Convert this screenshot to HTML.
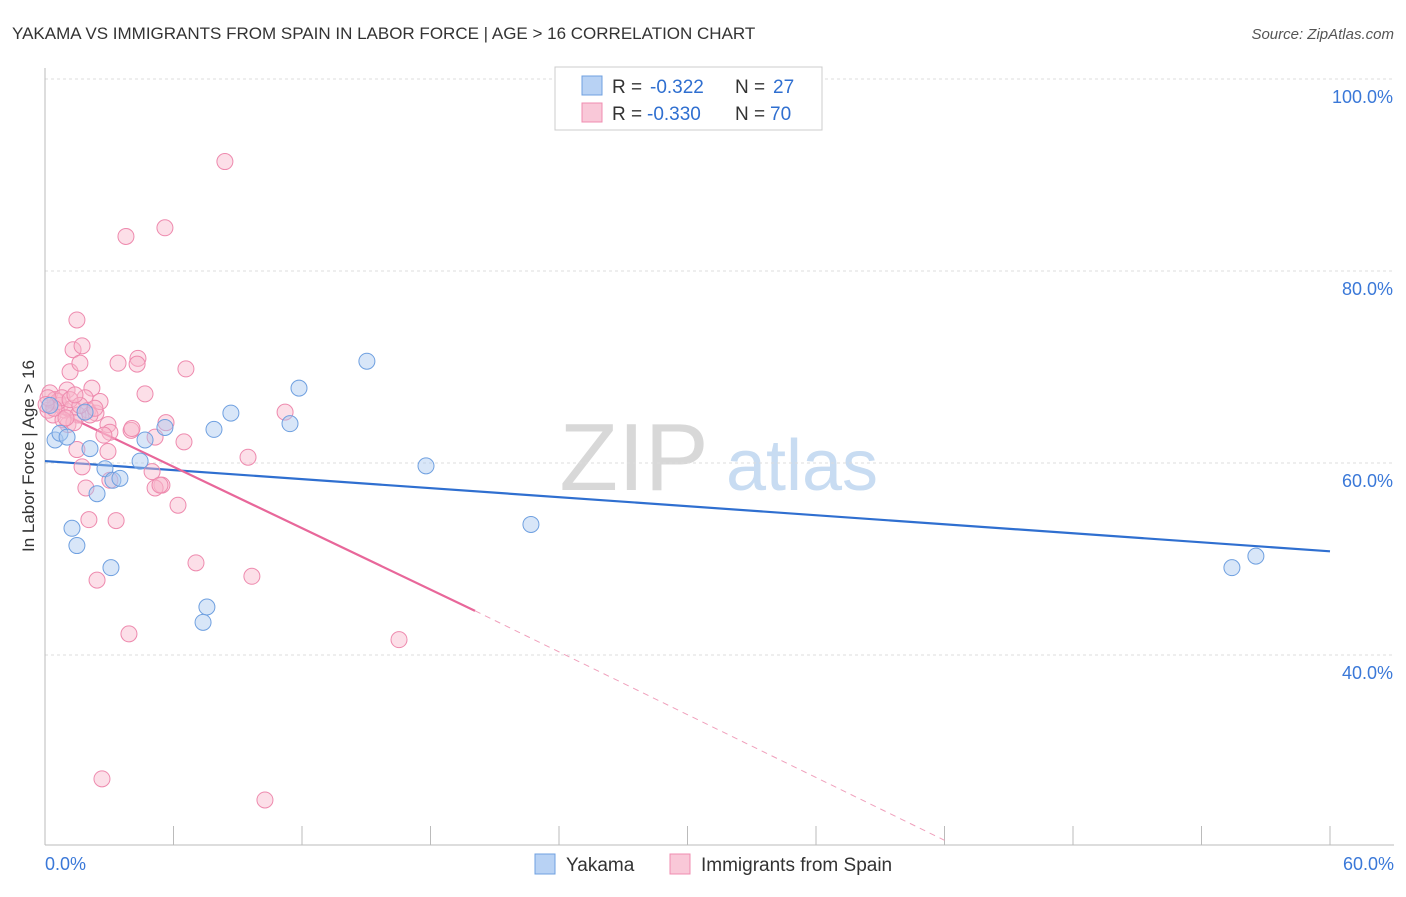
<!DOCTYPE html>
<html><head><meta charset="utf-8"><style>
body{margin:0;background:#fff;font-family:"Liberation Sans",sans-serif}
svg text{font-family:"Liberation Sans",sans-serif}
</style></head><body>
<svg id="c" width="1406" height="892">
<text x="12" y="39" font-size="17" fill="#333">YAKAMA VS IMMIGRANTS FROM SPAIN IN LABOR FORCE | AGE &gt; 16 CORRELATION CHART</text>
<text x="1394" y="39" font-size="15" fill="#555" font-style="italic" text-anchor="end">Source: ZipAtlas.com</text>
<g><text x="634" y="490" font-size="96" font-family="Liberation Serif" fill="#d8d8d8" text-anchor="middle">ZIP</text><text x="802" y="490" font-size="72" fill="#c8dcf2" text-anchor="middle">atlas</text></g>
<g id="grid"></g><g id="axes"></g><g id="lines"></g><g id="pts"></g>
<text transform="translate(34,456) rotate(-90)" font-size="17" fill="#333" text-anchor="middle">In Labor Force | Age &gt; 16</text>
<g>
<rect x="555" y="67" width="267" height="63" fill="#fff" stroke="#ccc"/>
<rect x="582" y="76" width="20" height="19" fill="#b8d2f4" stroke="#6fa0e0"/>
<rect x="582" y="103" width="20" height="19" fill="#f9c8d8" stroke="#f08cb0"/>
<text x="612" y="93" font-size="19" fill="#333">R =</text>
<text x="650" y="93" font-size="19" fill="#2f6fd0">-0.322</text>
<text x="735" y="93" font-size="19" fill="#333">N =</text>
<text x="773" y="93" font-size="19" fill="#2f6fd0">27</text>
<text x="612" y="120" font-size="19" fill="#333">R =</text>
<text x="647" y="120" font-size="19" fill="#2f6fd0">-0.330</text>
<text x="735" y="120" font-size="19" fill="#333">N =</text>
<text x="770" y="120" font-size="19" fill="#2f6fd0">70</text>
</g>
<g>
<rect x="535" y="854" width="20" height="20" fill="#b8d2f4" stroke="#6fa0e0"/>
<text x="566" y="871" font-size="19" fill="#333">Yakama</text>
<rect x="670" y="854" width="20" height="20" fill="#f9c8d8" stroke="#f08cb0"/>
<text x="701" y="871" font-size="19" fill="#333">Immigrants from Spain</text>
</g>
</svg>
<script>
const yTicks=[40,60,80,100];
const xTickLabels=["0.0%","60.0%"];
const blueX=[0.47,0.70,1.03,1.26,1.49,1.87,2.10,2.43,2.80,3.08,3.17,3.50,4.44,4.67,5.60,7.56,7.38,7.89,8.68,11.44,11.86,15.03,17.79,22.69,55.42,56.54,0.23];
const blueY=[62.4,63.1,62.7,53.2,51.4,65.3,61.5,56.8,59.4,49.1,58.2,58.4,60.2,62.4,63.7,45.0,43.4,63.5,65.2,64.1,67.8,70.6,59.7,53.6,49.1,50.3,66.0];
const pinkX=[8.40,3.78,5.60,1.49,1.31,1.73,1.17,1.63,2.19,1.03,0.23,0.47,0.70,0.93,0.14,0.37,0.61,0.79,1.26,1.87,2.01,2.38,1.54,1.07,1.35,2.94,3.03,2.75,3.41,4.34,4.30,6.58,4.67,4.02,5.14,5.65,6.49,1.49,2.94,1.73,5.00,5.46,5.14,1.91,6.21,2.05,3.32,9.48,11.21,7.05,9.66,2.43,3.92,16.53,2.66,10.27,2.57,2.10,0.84,0.42,1.17,1.63,3.03,0.98,1.40,0.14,2.33,4.06,5.37,0.05];
const pinkY=[91.4,83.6,84.5,74.9,71.8,72.2,69.5,70.4,67.8,67.6,67.3,66.6,66.0,65.5,65.5,65.0,66.4,66.8,65.7,66.8,65.5,65.2,65.0,64.0,64.2,64.0,63.2,62.9,70.4,70.9,70.3,69.8,67.2,63.4,62.7,64.2,62.2,61.4,61.2,59.6,59.1,57.7,57.4,57.4,55.6,54.1,54.0,60.6,65.3,49.6,48.2,47.8,42.2,41.6,27.1,24.9,66.4,65.0,64.5,65.7,66.6,66.0,58.2,64.7,67.1,66.8,65.7,63.6,57.7,66.1];
const blueLineX=[0,60], blueLineY=[60.2,50.8];
const pinkLineX=[0,20.08], pinkLineY=[66.0,44.6];
const pinkDashX=[20.08,42.0], pinkDashY=[44.6,20.7];
const X=v=>45+v/60*1285, Y=v=>79+(100-v)*9.6;
const NS="http://www.w3.org/2000/svg";
function mk(p,t,a){const e=document.createElementNS(NS,t);for(const k in a)e.setAttribute(k,a[k]);document.getElementById(p).appendChild(e);return e;}
yTicks.forEach(t=>{
 const g=mk('grid','line',{x1:45,x2:1394,y1:Y(t),y2:Y(t),stroke:'#ddd','stroke-dasharray':'3,3'});
 
 
 const l=mk('axes','text',{x:1393,y:Y(t)+24,'font-size':18,fill:'#3a78d8','text-anchor':'end'});
 l.textContent=t.toFixed(1)+'%';
 
 
});
const ax=mk('axes','line',{x1:45,x2:45,y1:68,y2:845,stroke:'#bbb'});


const bx=mk('axes','line',{x1:45,x2:1394,y1:845,y2:845,stroke:'#bbb'});


for(let i=0;i<=10;i++){const t=mk('axes','line',{x1:X(i*6),x2:X(i*6),y1:826,y2:845,stroke:'#bbb'});
 
 }
[[0,'start',45],[60,'end',1394]].forEach((d,i)=>{const l=mk('axes','text',{x:d[2],y:870,'font-size':18,fill:'#3a78d8','text-anchor':d[1]});
 l.textContent=xTickLabels[i];
 
 });
function pts(xs,ys,fill,stroke,name){xs.forEach((x,i)=>{const c=mk('pts','circle',{cx:X(x),cy:Y(ys[i]),r:8,fill:fill,'fill-opacity':0.45,stroke:stroke,'stroke-width':1});
 
 });}
pts(pinkX,pinkY,'#f9b8cc','#ee8aae','spain-point');
pts(blueX,blueY,'#a9c8f0','#6fa0e0','yakama-point');
const b=mk('lines','line',{x1:X(blueLineX[0]),y1:Y(blueLineY[0]),x2:X(blueLineX[1]),y2:Y(blueLineY[1]),stroke:'#2f6fd0','stroke-width':2.2});


const p=mk('lines','line',{x1:X(pinkLineX[0]),y1:Y(pinkLineY[0]),x2:X(pinkLineX[1]),y2:Y(pinkLineY[1]),stroke:'#e8679a','stroke-width':2.2});


const pd=mk('lines','line',{x1:X(pinkDashX[0]),y1:Y(pinkDashY[0]),x2:X(pinkDashX[1]),y2:Y(pinkDashY[1]),stroke:'#f0a0bc','stroke-width':1,'stroke-dasharray':'6,5'});


</script>
</body></html>
